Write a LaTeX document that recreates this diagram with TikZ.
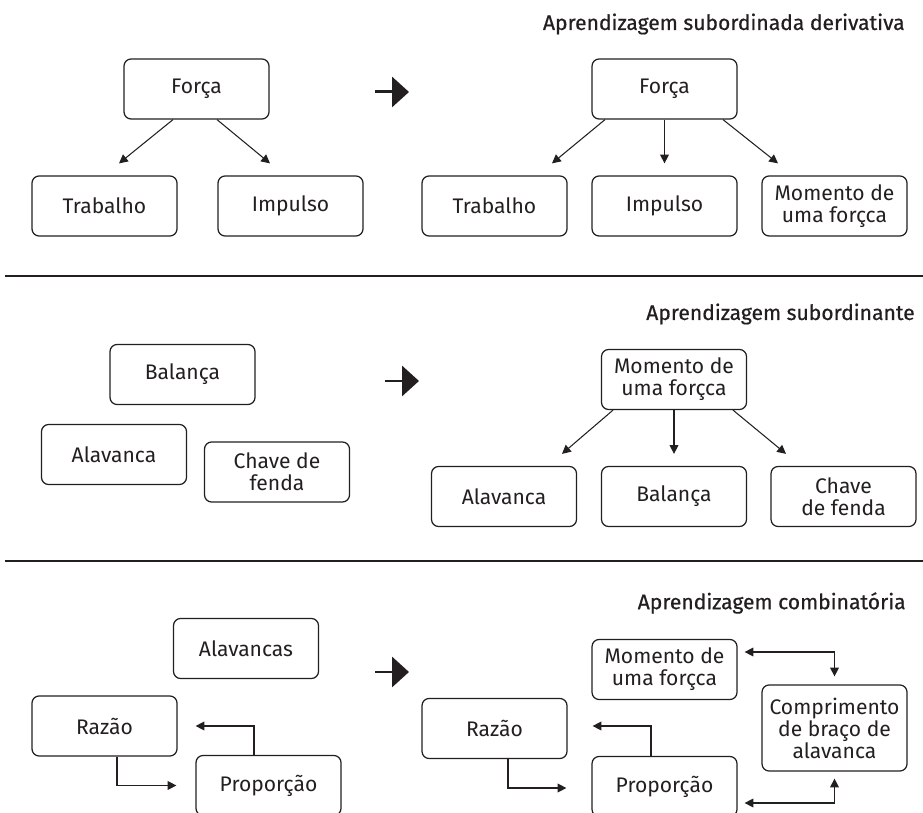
\documentclass[tikz,border=0pt]{standalone}
\usepackage{fontspec}
\setmainfont{Fira Sans}
\newfontfamily\titlefont[FakeBold=0.6]{Fira Sans}
\usetikzlibrary{arrows.meta,positioning}
\definecolor{tinta}{HTML}{231F20}

\begin{document}
\begin{tikzpicture}[
    x=0.02cm, y=-0.02cm,
    conceito/.style={
        rectangle,
        rounded corners=4pt,
        draw=tinta,
        line width=0.7pt,
        text=tinta,
        align=center,
        minimum width=2.9cm,
        minimum height=1.2cm,
        inner sep=2pt,
        font=\fontsize{12}{12.5}\selectfont
    },
    seta/.style={
        draw=tinta,
        line width=0.6pt,
        -{Triangle[length=5pt,width=5pt]}
    },
    setadupla/.style={
        seta,
        {Triangle[length=5pt,width=5pt]}-{Triangle[length=5pt,width=5pt]}
    },
    setagrande/.style={
        draw=tinta,
        line width=1.7pt,
        -{Triangle[length=9.6pt,width=17pt]}
    },
    titulo/.style={
        anchor=east,
        text=tinta,
        inner sep=0pt,
        font=\titlefont\fontsize{12}{14}\selectfont
    }
]
    \useasboundingbox (0,0) rectangle (923,813);

    % Aprendizagem subordinada derivativa
    \node[titulo] (titulo1) at (905,24) {Aprendizagem subordinada derivativa};

    \node[conceito] (forcaA) at (196.5,89) {Força};
    \node[conceito] (trabalhoA) at (104.5,206) {Trabalho};
    \node[conceito] (impulsoA) at (290.5,206) {Impulso};

    \draw[seta] ([xshift=-0.47cm]forcaA.south) -- ([xshift=0.29cm,yshift=0.24cm]trabalhoA.north);
    \draw[seta] ([xshift=0.41cm]forcaA.south) -- ([xshift=-0.41cm,yshift=0.24cm]impulsoA.north);

    \coordinate (passo1a) at (375,92);
    \coordinate (passo1b) at (409,92);
    \draw[setagrande] (passo1a) -- (passo1b);

    \node[conceito] (forcaB) at (664.5,89) {Força};
    \node[conceito] (trabalhoB) at (494.5,206) {Trabalho};
    \node[conceito] (impulsoB) at (664.5,206) {Impulso};
    \node[conceito] (momentoB) at (834.5,206) {Momento de\\uma forçca};

    \draw[seta] ([xshift=-1.19cm]forcaB.south) -- ([xshift=1.15cm,yshift=0.24cm]trabalhoB.north);
    \draw[seta] (forcaB.south) -- ([yshift=0.24cm]impulsoB.north);
    \draw[seta] ([xshift=1.17cm]forcaB.south) -- ([xshift=-1.13cm,yshift=0.24cm]momentoB.north);

    \draw[tinta, line width=0.7pt] (5,276) -- (923,276);

    % Aprendizagem subordinante
    \node[titulo] (titulo2) at (915,314) {Aprendizagem subordinante};

    \node[conceito] (balancaA) at (182.5,374.5) {Balança};
    \node[conceito] (alavancaA) at (114,454.5) {Alavanca};
    \node[conceito] (chaveA) at (277,472) {Chave de\\fenda};

    \coordinate (passo2a) at (385,381);
    \coordinate (passo2b) at (419,381);
    \draw[setagrande] (passo2a) -- (passo2b);

    \node[conceito] (momentoC) at (674,379.5) {Momento de\\uma forçca};
    \node[conceito] (alavancaC) at (504,496.5) {Alavanca};
    \node[conceito] (balancaC) at (674,496.5) {Balança};
    \node[conceito] (chaveC) at (843.5,496.5) {Chave\\de fenda};

    \draw[seta] ([xshift=-1.22cm]momentoC.south) -- ([xshift=1.16cm,yshift=0.24cm]alavancaC.north);
    \draw[seta] (momentoC.south) -- ([yshift=0.24cm]balancaC.north);
    \draw[seta] ([xshift=1.18cm]momentoC.south) -- ([xshift=-1.15cm,yshift=0.24cm]chaveC.north);

    \draw[tinta, line width=0.7pt] (5,561) -- (923,561);

    % Aprendizagem combinatoria
    \node[titulo] (titulo3) at (906,603) {Aprendizagem combinatória};

    \node[conceito] (alavancasA) at (246,648.5) {Alavancas};
    \node[conceito] (razaoA) at (104.5,726) {Razão};
    \node[conceito] (proporcaoA) at (268.5,785.5) {Proporção};

    \draw[seta] ([xshift=0.25cm]razaoA.south) |- ([xshift=-0.38cm]proporcaoA.west);
    \draw[seta] ([xshift=-0.29cm]proporcaoA.north) |- ([xshift=0.36cm]razaoA.east);

    \coordinate (passo3a) at (375,672);
    \coordinate (passo3b) at (409,672);
    \draw[setagrande] (passo3a) -- (passo3b);

    \node[conceito] (momentoD) at (664.5,669.5) {Momento de\\uma forçca};
    \node[conceito] (razaoD) at (494.5,728.5) {Razão};
    \node[conceito] (proporcaoD) at (664.5,786.5) {Proporção};
    \node[conceito, minimum height=1.72cm] (comprimentoD) at (834.5,728) {Comprimento\\de braço de\\alavanca};

    \draw[seta] ([xshift=0.27cm]razaoD.south) |- ([xshift=-0.5cm,yshift=-0.03cm]proporcaoD.west);
    \draw[seta] ([xshift=-0.27cm]proporcaoD.north) |- ([xshift=0.5cm,yshift=0.05cm]razaoD.east);
    \draw[setadupla] ([xshift=0.14cm,yshift=0.35cm]momentoD.east) -| ([yshift=0.16cm]comprimentoD.north);
    \draw[setadupla] ([xshift=0.14cm,yshift=-0.33cm]proporcaoD.east) -| ([yshift=-0.14cm]comprimentoD.south);

\end{tikzpicture}
\end{document}
